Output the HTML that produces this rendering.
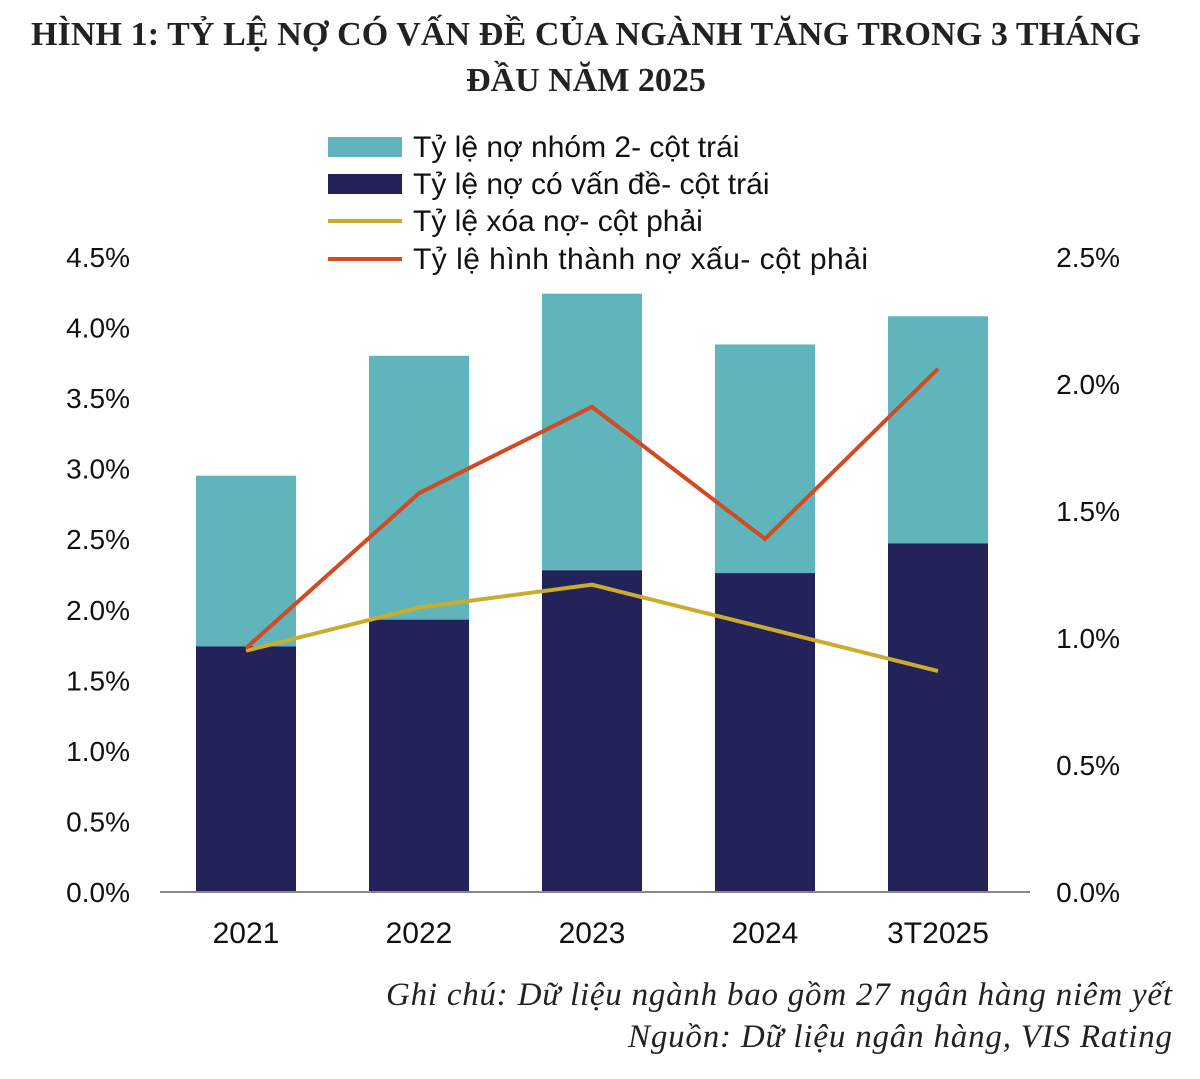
<!DOCTYPE html>
<html><head><meta charset="utf-8"><style>
body{margin:0;background:#fff;width:1200px;height:1074px;overflow:hidden;font-family:"Liberation Sans",sans-serif}
</style></head><body>
<svg width="1200" height="1074">
<text x="586" y="45" text-anchor="middle" font-family="Liberation Serif, serif" font-weight="bold" font-size="34" fill="#222" textLength="1110">HÌNH 1: TỶ LỆ NỢ CÓ VẤN ĐỀ CỦA NGÀNH TĂNG TRONG 3 THÁNG</text>
<text x="586" y="91" text-anchor="middle" font-family="Liberation Serif, serif" font-weight="bold" font-size="34" fill="#222">ĐẦU NĂM 2025</text>
<g font-size="30" fill="#111">
<rect x="328" y="137" width="74" height="20" fill="#5fb5bb"/>
<text x="413" y="157">Tỷ lệ nợ nhóm 2- cột trái</text>
<rect x="328" y="174" width="74" height="20" fill="#23235a"/>
<text x="413" y="194">Tỷ lệ nợ có vấn đề- cột trái</text>
<line x1="328" y1="221" x2="402" y2="221" stroke="#c9ad2c" stroke-width="4"/>
<text x="413" y="231">Tỷ lệ xóa nợ- cột phải</text>
<line x1="328" y1="259" x2="402" y2="259" stroke="#d24a22" stroke-width="4"/>
<text x="413" y="269" textLength="455">Tỷ lệ hình thành nợ xấu- cột phải</text>
</g>
<g id="plot"></g>
<text x="1172" y="1005" text-anchor="end" font-family="Liberation Serif, serif" font-style="italic" font-size="33" fill="#222" textLength="786">Ghi chú: Dữ liệu ngành bao gồm 27 ngân hàng niêm yết</text>
<text x="1172" y="1047" text-anchor="end" font-family="Liberation Serif, serif" font-style="italic" font-size="33" fill="#222" textLength="544">Nguồn: Dữ liệu ngân hàng, VIS Rating</text>
</svg>
<script>
const categories=["2021","2022","2023","2024","3T2025"];
const problemDebt=[1.74,1.93,2.28,2.26,2.47];
const totalDebt=[2.95,3.80,4.24,3.88,4.08];
const writeOff=[0.95,1.12,1.21,1.04,0.87];
const nplFormation=[0.96,1.57,1.91,1.39,2.06];
const leftTicks=["0.0%","0.5%","1.0%","1.5%","2.0%","2.5%","3.0%","3.5%","4.0%","4.5%"];
const rightTicks=["0.0%","0.5%","1.0%","1.5%","2.0%","2.5%"];
const NS="http://www.w3.org/2000/svg";
const g=document.getElementById('plot');
const y0=892,yTop=257;
const yL=v=>y0-(v/4.5)*(y0-yTop);
const yR=v=>y0-(v/2.5)*(y0-yTop);
const xC=i=>246+i*173;
const bw=100;
function mk(t,a){const e=document.createElementNS(NS,t);for(const k in a)e.setAttribute(k,a[k]);g.appendChild(e);return e;}
leftTicks.forEach((t,i)=>{const e=mk('text',{x:130,y:yL(i*0.5)+10,'text-anchor':'end','font-size':28,fill:'#111'});e.textContent=t;

});
rightTicks.forEach((t,i)=>{const e=mk('text',{x:1120,y:yR(i*0.5)+10,'text-anchor':'end','font-size':28,fill:'#111'});e.textContent=t;

});
categories.forEach((c,i)=>{
const t=mk('rect',{x:xC(i)-bw/2,y:yL(totalDebt[i]),width:bw,height:yL(problemDebt[i])-yL(totalDebt[i]),fill:'#5fb5bb'});


const b=mk('rect',{x:xC(i)-bw/2,y:yL(problemDebt[i]),width:bw,height:y0-yL(problemDebt[i]),fill:'#23235a'});


const l=mk('text',{x:xC(i),y:943,'text-anchor':'middle','font-size':30,fill:'#111'});l.textContent=c;


});
const ax=mk('line',{x1:160,y1:y0,x2:1030,y2:y0,stroke:'#888','stroke-width':2});


const wl=mk('polyline',{points:writeOff.map((v,i)=>xC(i)+','+yR(v)).join(' '),fill:'none',stroke:'#c9ad2c','stroke-width':4});


const nl=mk('polyline',{points:nplFormation.map((v,i)=>xC(i)+','+yR(v)).join(' '),fill:'none',stroke:'#d24a22','stroke-width':4});


</script>
</body></html>
